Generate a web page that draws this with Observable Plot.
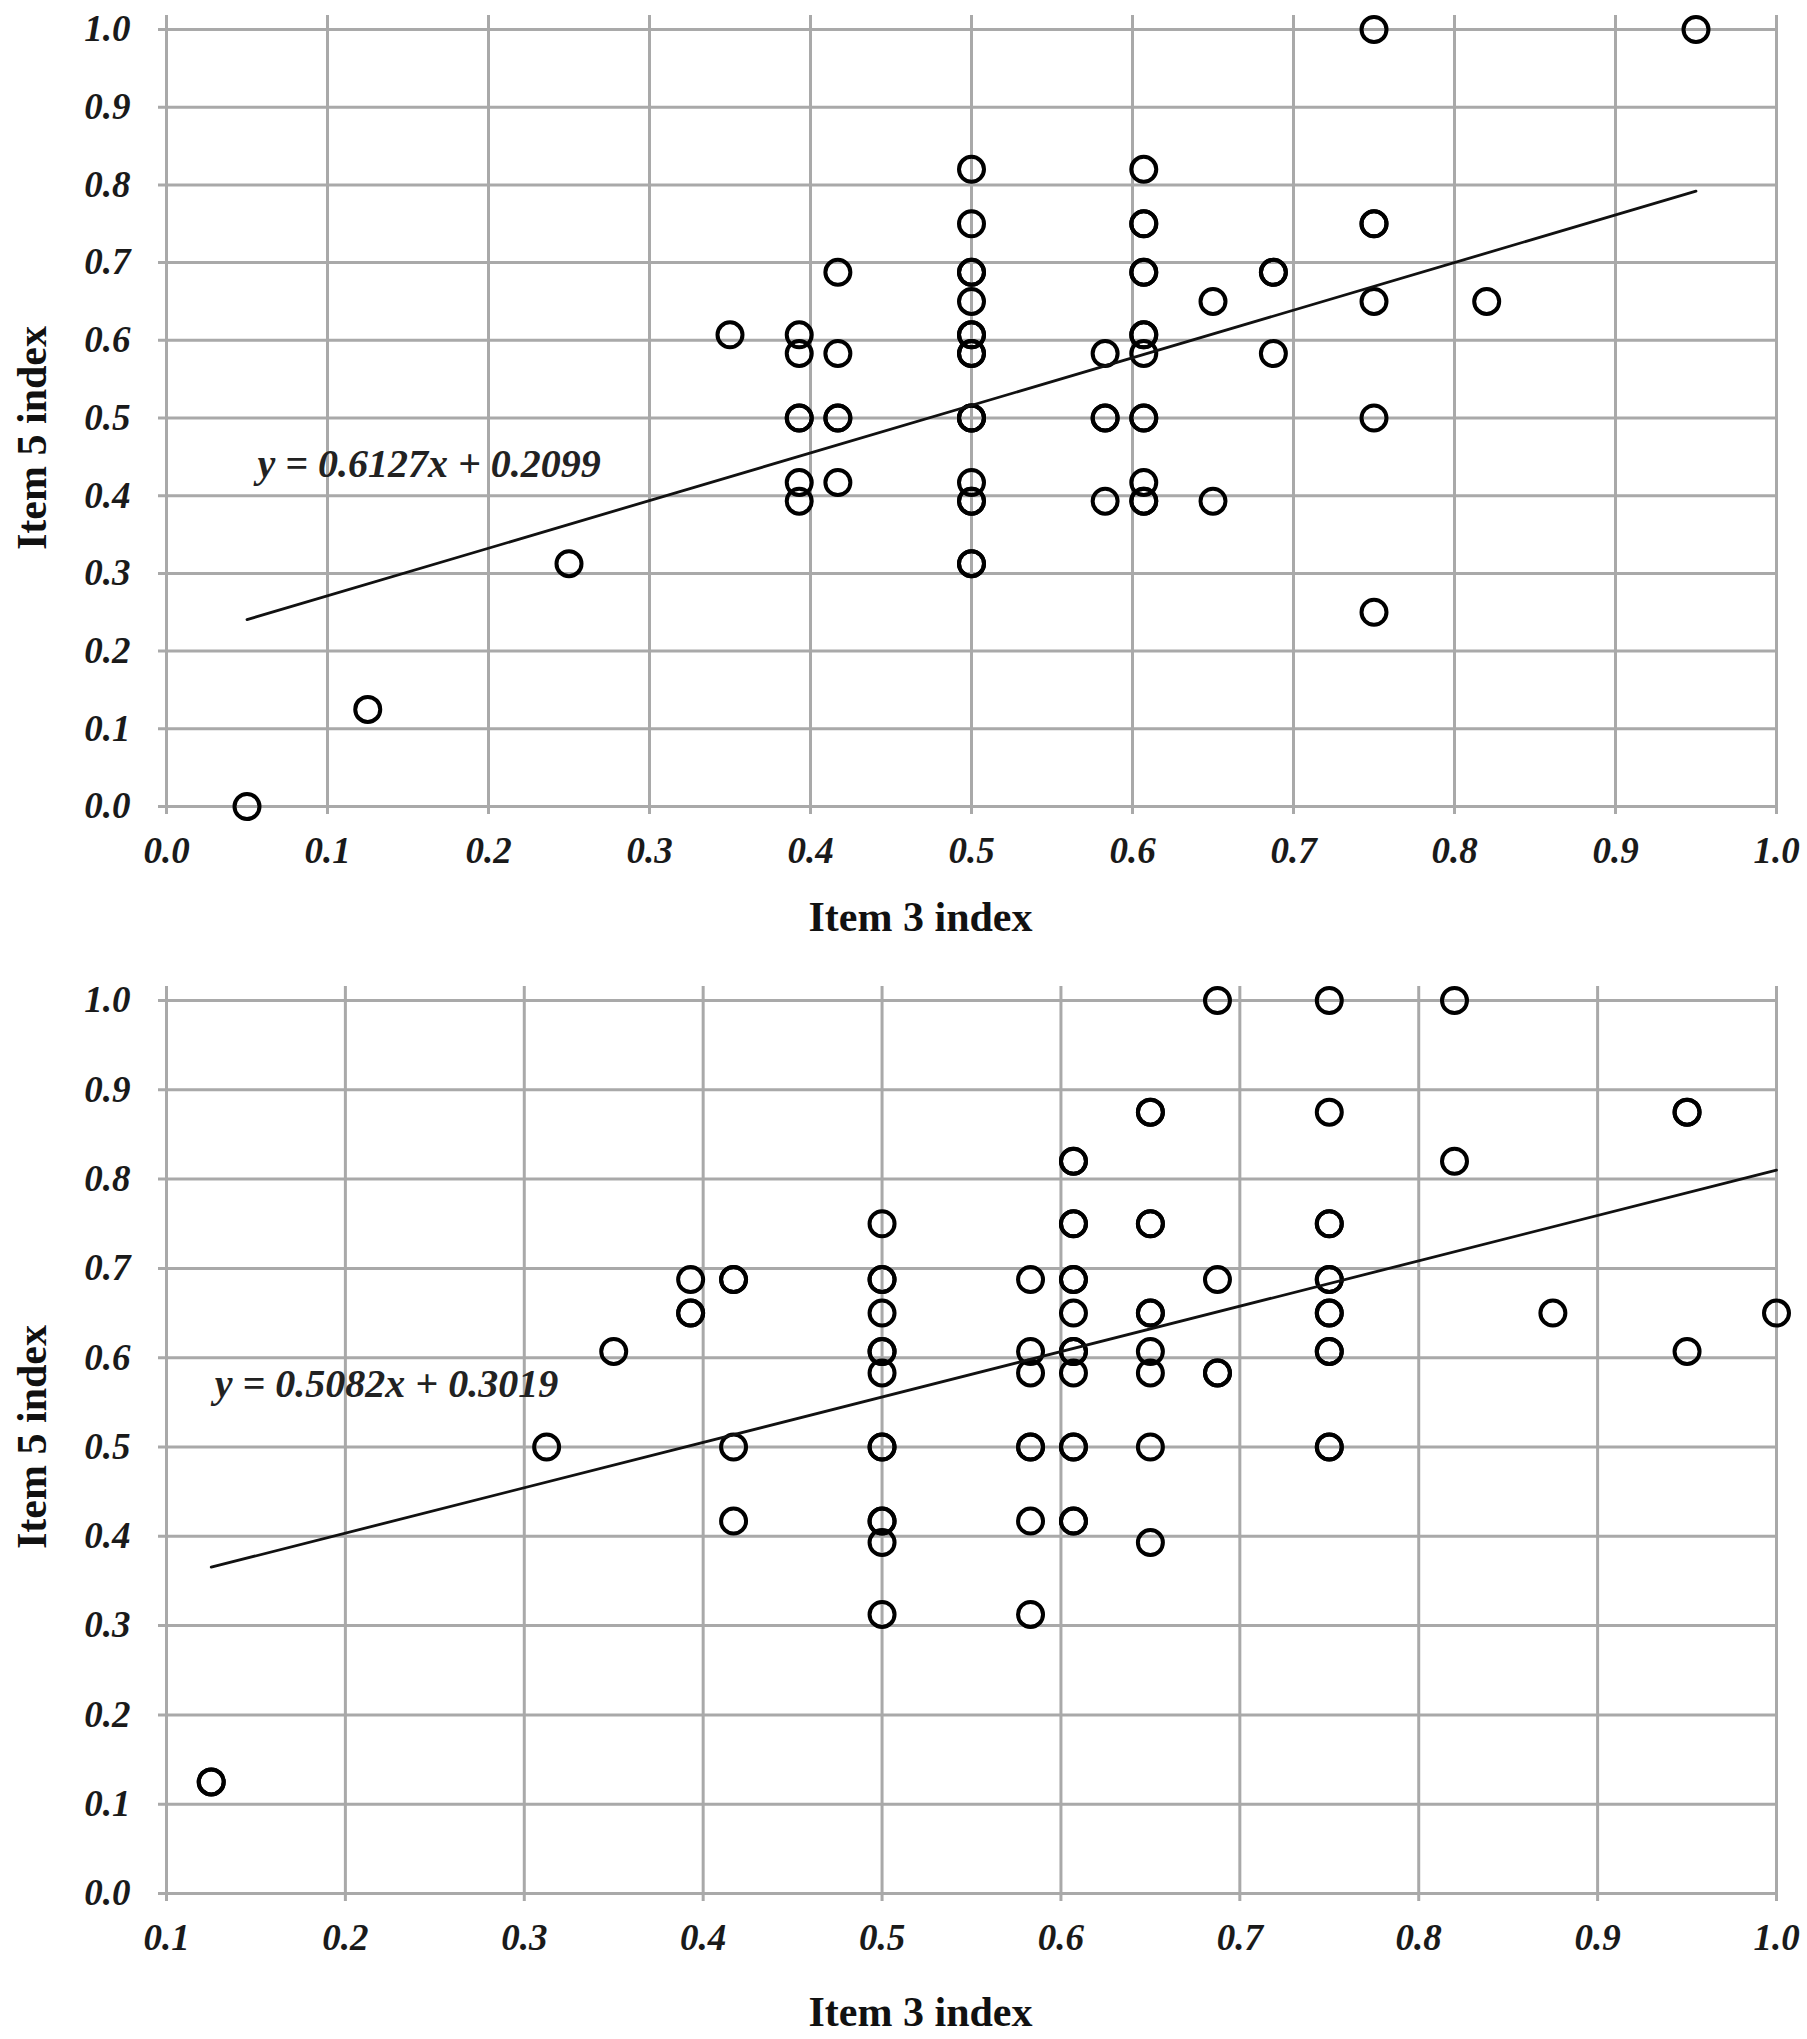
<!DOCTYPE html>
<html>
<head>
<meta charset="utf-8">
<script src="https://cdn.jsdelivr.net/npm/d3@7"></script>
<script src="https://cdn.jsdelivr.net/npm/@observablehq/plot@0.6"></script>
<style>
  html, body { margin: 0; padding: 0; background: #fff; overflow: hidden; }
  #chart svg { display: block; }
</style>
</head>
<body>
<div id="chart"></div>
<script>
// ---------- data ----------
// Top panel: Item 3 index (x) vs Item 5 index (y)
const topItem3 = [
  0.05, 0.125, 0.25, 0.35,
  0.393, 0.393, 0.393, 0.393, 0.393, 0.393,
  0.417, 0.417, 0.417, 0.417, 0.417,
  0.5, 0.5, 0.5, 0.5, 0.5, 0.5, 0.5, 0.5, 0.5, 0.5, 0.5, 0.5, 0.5, 0.5, 0.5, 0.5, 0.5,
  0.583, 0.583, 0.583, 0.583,
  0.607, 0.607, 0.607, 0.607, 0.607, 0.607, 0.607, 0.607, 0.607, 0.607, 0.607, 0.607, 0.607,
  0.65, 0.65,
  0.6875, 0.6875, 0.6875,
  0.75, 0.75, 0.75, 0.75, 0.75, 0.75,
  0.82, 0.95
];
const topItem5 = [
  0.0, 0.125, 0.3125, 0.607,
  0.607, 0.583, 0.5, 0.5, 0.417, 0.393,
  0.6875, 0.583, 0.5, 0.5, 0.417,
  0.82, 0.75, 0.6875, 0.6875, 0.65, 0.607, 0.607, 0.583, 0.583, 0.5, 0.5, 0.5, 0.417, 0.393, 0.393, 0.3125, 0.3125,
  0.583, 0.5, 0.5, 0.393,
  0.82, 0.75, 0.75, 0.6875, 0.6875, 0.607, 0.607, 0.583, 0.5, 0.5, 0.417, 0.393, 0.393,
  0.65, 0.393,
  0.6875, 0.6875, 0.583,
  1.0, 0.75, 0.75, 0.65, 0.5, 0.25,
  0.65, 1.0
];
// Bottom panel
const bottomItem3 = [
  0.125, 0.125, 0.3125, 0.35,
  0.393, 0.393, 0.393,
  0.417, 0.417, 0.417, 0.417,
  0.5, 0.5, 0.5, 0.5, 0.5, 0.5, 0.5, 0.5, 0.5, 0.5, 0.5, 0.5, 0.5,
  0.583, 0.583, 0.583, 0.583, 0.583, 0.583, 0.583,
  0.607, 0.607, 0.607, 0.607, 0.607, 0.607, 0.607, 0.607, 0.607, 0.607, 0.607, 0.607, 0.607, 0.607,
  0.65, 0.65, 0.65, 0.65, 0.65, 0.65, 0.65, 0.65, 0.65, 0.65,
  0.6875, 0.6875, 0.6875, 0.6875,
  0.75, 0.75, 0.75, 0.75, 0.75, 0.75, 0.75, 0.75, 0.75, 0.75, 0.75, 0.75,
  0.82, 0.82,
  0.875,
  0.95, 0.95, 0.95,
  1.0
];
const bottomItem5 = [
  0.125, 0.125, 0.5, 0.607,
  0.6875, 0.65, 0.65,
  0.6875, 0.6875, 0.5, 0.417,
  0.75, 0.6875, 0.6875, 0.65, 0.607, 0.607, 0.583, 0.5, 0.5, 0.417, 0.417, 0.393, 0.3125,
  0.6875, 0.607, 0.583, 0.5, 0.5, 0.417, 0.3125,
  0.82, 0.82, 0.75, 0.75, 0.6875, 0.6875, 0.65, 0.607, 0.607, 0.583, 0.5, 0.5, 0.417, 0.417,
  0.875, 0.875, 0.75, 0.75, 0.65, 0.65, 0.607, 0.583, 0.5, 0.393,
  1.0, 0.6875, 0.583, 0.583,
  1.0, 0.875, 0.75, 0.75, 0.6875, 0.6875, 0.65, 0.65, 0.607, 0.607, 0.5, 0.5,
  1.0, 0.82,
  0.65,
  0.875, 0.875, 0.607,
  0.65
];

// linear trend lines (Excel-style) and their labels
const topFitSlope = 0.6127, topFitIntercept = 0.2099, topFitRange = [0.05, 0.95];
const bottomFitSlope = 0.5082, bottomFitIntercept = 0.3019, bottomFitRange = [0.125, 1.0];
const topEquation = "y = 0.6127x + 0.2099";
const bottomEquation = "y = 0.5082x + 0.3019";
const topEquationAt = [0.0565, 0.44];
const bottomEquationAt = [0.127, 0.57];

// ticks
const yTicks = [0, 0.1, 0.2, 0.3, 0.4, 0.5, 0.6, 0.7, 0.8, 0.9, 1.0];
const topXTicks = [0, 0.1, 0.2, 0.3, 0.4, 0.5, 0.6, 0.7, 0.8, 0.9, 1.0];
const bottomXTicks = [0.1, 0.2, 0.3, 0.4, 0.5, 0.6, 0.7, 0.8, 0.9, 1.0];
const xTitle = "Item 3 index";
const yTitle = "Item 5 index";

// ---------- drawing ----------
const serif = "'Liberation Serif', 'Times New Roman', 'DejaVu Serif', serif";
const gridColor = "#a9a9a9";
const fmt = d3.format(".1f");

function panel(cfg) {
  const pts = cfg.xs.map((x, i) => ({x, y: cfg.ys[i]}));
  const fit = cfg.fitRange.map(x => ({x, y: cfg.slope * x + cfg.intercept}));
  return Plot.plot({
    width: 1807,
    height: cfg.height,
    marginTop: cfg.marginTop,
    marginBottom: cfg.marginBottom,
    marginLeft: 166,
    marginRight: 31,
    style: {fontFamily: serif, background: "#fff", overflow: "visible"},
    x: {domain: [cfg.xTicks[0], cfg.xTicks[cfg.xTicks.length - 1]]},
    y: {domain: [0, 1]},
    marks: [
      Plot.ruleY(yTicks, {stroke: gridColor, strokeWidth: 3, insetLeft: -8}),
      Plot.ruleX(cfg.xTicks, {stroke: gridColor, strokeWidth: 3, insetTop: -14, insetBottom: -8}),
      Plot.axisY(yTicks, {
        tickSize: 0, tickPadding: 36, tickFormat: fmt, label: null,
        fontSize: 37, fontWeight: "bold", fontStyle: "italic", fill: "#1a1a1a"
      }),
      Plot.axisX(cfg.xTicks, {
        tickSize: 0, tickPadding: 30, tickFormat: fmt, label: null,
        fontSize: 37, fontWeight: "bold", fontStyle: "italic", fill: "#1a1a1a"
      }),
      Plot.dot(pts, {x: "x", y: "y", r: 12.5, stroke: "#000", strokeWidth: 4, fill: "none"}),
      Plot.line(fit, {x: "x", y: "y", stroke: "#111", strokeWidth: 2.8}),
      Plot.text([cfg.equation], {
        x: cfg.equationAt[0], y: cfg.equationAt[1], textAnchor: "start", lineAnchor: "middle",
        fontSize: 40, fontWeight: "bold", fontStyle: "italic", fill: "#222"
      }),
      Plot.text([xTitle], {
        frameAnchor: "bottom", textAnchor: "middle", dx: -51, dy: cfg.xTitleDy, lineAnchor: "middle",
        fontSize: 42, fontWeight: "bold", fill: "#111"
      }),
      Plot.text([yTitle], {
        frameAnchor: "left", textAnchor: "middle", rotate: -90, dx: -134, dy: cfg.yTitleDy, lineAnchor: "middle",
        fontSize: 42, fontWeight: "bold", fill: "#111"
      })
    ]
  });
}

const chart = document.getElementById("chart");
chart.append(panel({
  xs: topItem3, ys: topItem5, xTicks: topXTicks,
  slope: topFitSlope, intercept: topFitIntercept, fitRange: topFitRange,
  equation: topEquation, equationAt: topEquationAt,
  height: 950, marginTop: 29, marginBottom: 144, xTitleDy: 111, yTitleDy: 20
}));
chart.append(panel({
  xs: bottomItem3, ys: bottomItem5, xTicks: bottomXTicks,
  slope: bottomFitSlope, intercept: bottomFitIntercept, fitRange: bottomFitRange,
  equation: bottomEquation, equationAt: bottomEquationAt,
  height: 1089, marginTop: 50, marginBottom: 146, xTitleDy: 119, yTitleDy: -10
}));
</script>
</body>
</html>
